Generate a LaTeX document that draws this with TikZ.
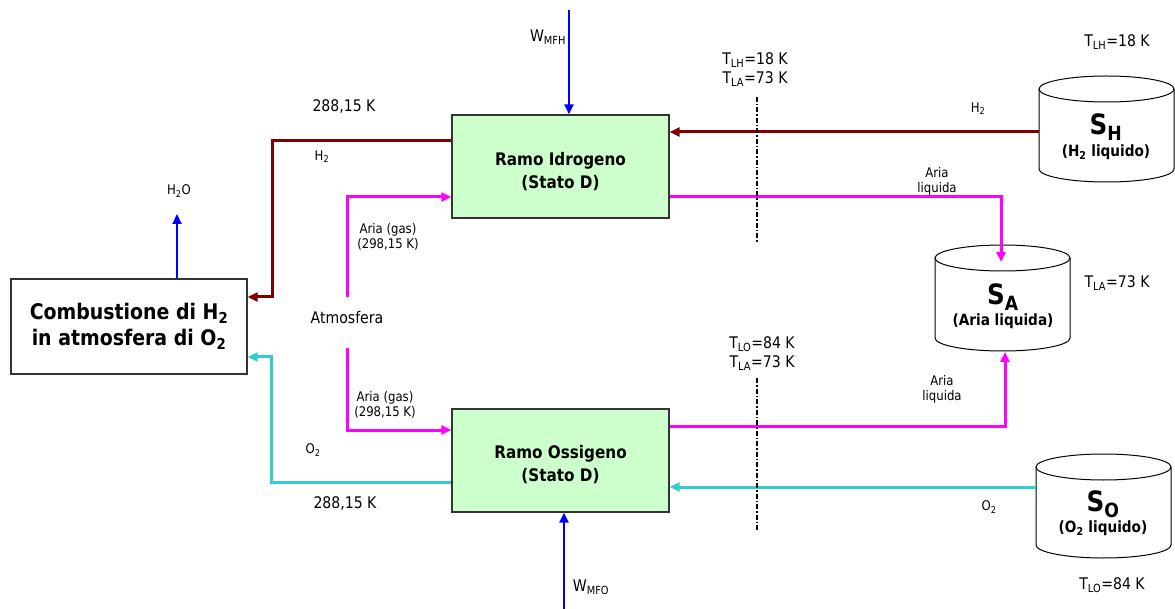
\documentclass[tikz,border=0pt]{standalone}
\usepackage{fontspec}
\setmainfont{DejaVu Sans}[FakeStretch=0.88]
\usetikzlibrary{arrows.meta}
\definecolor{dred}{HTML}{800000}
\definecolor{mag}{HTML}{FF00FF}
\definecolor{cya}{HTML}{33CCCC}
\definecolor{blu}{HTML}{0000FF}
\definecolor{lgreen}{HTML}{CCFFCC}
\newcommand\fs[1]{\fontsize{#1}{#1}\selectfont}
\newcommand\sbs[1]{\textsubscript{#1}}
\newcommand\tank[4]{%
  \draw[tankline] ({#2-67.5},#3) -- ({#2-67.5},#4) arc[start angle=180,end angle=0,x radius=67.5,y radius=13] -- ({#2+67.5},#3);
  \draw[tankline] (#2,#3) ellipse[x radius=67.5,y radius=13];
  \coordinate (#1) at (#2,#3);}
\begin{document}
\begin{tikzpicture}[x=1pt,y=-1pt,
  box/.style={draw=black!80,line width=1.2pt,fill=lgreen,minimum width=217pt,minimum height=103pt,inner sep=0pt},
  boxtext/.style={inner sep=0pt,align=center,font=\fs{17.3}\bfseries},
  cbox/.style={draw=black!80,line width=1.2pt,fill=white,minimum width=236pt,minimum height=95pt,inner sep=0pt,align=center,font=\fs{21.5}\bfseries},
  tankline/.style={draw=black,line width=1pt,fill=white},
  lbl/.style={inner sep=0pt,font=\fs{16}},
  slbl/.style={inner sep=0pt,font=\fs{13.3}},
  tip/.style={-{Triangle[length=10pt,width=9pt]}},
  h2line/.style={draw=dred,line width=3pt},
  airline/.style={draw=mag,line width=3pt},
  o2line/.style={draw=cya,line width=3pt},
  wline/.style={draw=blu,line width=2.2pt},
  cut/.style={draw=black,line width=1.6pt,dash pattern=on 5pt off 2pt on 1.5pt off 2pt}]
\useasboundingbox (0,0) rectangle (1175,609);

% boxes
\node[box] (RI) at (560.5,166.5) {};
\node[boxtext] (RIt) at ([yshift=-5pt]RI.center) {Ramo Idrogeno\\[6pt](Stato D)};
\node[box] (RO) at (560.5,460.5) {};
\node[boxtext] (ROt) at ([yshift=-4pt]RO.center) {Ramo Ossigeno\\[6pt](Stato D)};
\node[cbox] (CB) at (129,326.5) {Combustione di H\sbs{2}\\[5pt]in atmosfera di O\sbs{2}};

% tanks
\tank{SHtop}{1106.5}{89}{169}
\tank{SAtop}{1002.5}{258}{338}
\tank{SOtop}{1103.5}{467}{545}
\node[inner sep=0pt,font=\fs{28}\bfseries] (SHs) at (1106,127) {S\sbs{H}};
\node[inner sep=0pt,font=\fs{15.5}\bfseries] (SHl) at (1106,152) {(H\sbs{2} liquido)};
\node[inner sep=0pt,font=\fs{28}\bfseries] (SAs) at (1003,297) {S\sbs{A}};
\node[inner sep=0pt,font=\fs{15.5}\bfseries] (SAl) at (1003,321) {(Aria liquida)};
\node[inner sep=0pt,font=\fs{28}\bfseries] (SOs) at (1103,504) {S\sbs{O}};
\node[inner sep=0pt,font=\fs{15.5}\bfseries] (SOl) at (1103,528) {(O\sbs{2} liquido)};

% connection coordinates
\coordinate (SHw) at (1039,132);
\coordinate (SOw) at (1036,487);
\coordinate (SAt) at (1001,262);
\coordinate (SAb) at (1005,352);
\coordinate (WHs) at (569,10);
\coordinate (WOs) at (564,609);
\coordinate (H2Oe) at (177,214);
\coordinate (AtmU) at (347,297);
\coordinate (AtmD) at (347,348);

% hydrogen
\draw[h2line,tip] (SHw) -- (RI.east |- SHw);
\draw[h2line,tip] (RI.west |- 0,141) -- (272,141) -- (272,297) -- (CB.east |- 0,297);
% oxygen
\draw[o2line,tip] (SOw) -- (RO.east |- SOw);
\draw[o2line,tip] (RO.west |- 0,482) -- (271,482) -- (271,357) -- (CB.east |- 0,357);
% air
\draw[airline,tip] (AtmU) -- (347,197) -- (RI.west |- 0,197);
\draw[airline,tip] (AtmD) -- (347,430) -- (RO.west |- 0,430);
\draw[airline,tip] (RI.east |- 0,197) -- (1001,197) -- (SAt);
\draw[airline,tip] (RO.east |- 0,426) -- (1005,426) -- (SAb);
% work and water
\draw[wline,tip] (WHs) -- (RI.north -| WHs);
\draw[wline,tip] (WOs) -- (RO.south -| WOs);
\draw[wline,tip] (CB.north -| H2Oe) -- (H2Oe);

% cut lines
\coordinate (c1a) at (757,97); \coordinate (c1b) at (757,243);
\coordinate (c2a) at (757,378); \coordinate (c2b) at (757,530);
\draw[cut] (c1a) -- (c1b);
\draw[cut] (c2a) -- (c2b);

% labels
\node[lbl] (lWH) at (548,37) {W\sbs{MFH}};
\node[lbl] (lWO) at (591,587) {W\sbs{MFO}};
\node[lbl] (lT1) at (344,106) {288,15 K};
\node[lbl] (lT2) at (345,503) {288,15 K};
\node[slbl] (lH2a) at (322,157) {H\sbs{2}};
\node[slbl] (lH2b) at (978,109) {H\sbs{2}};
\node[slbl] (lH2O) at (179,191) {H\sbs{2}O};
\node[slbl] (lO2a) at (313,450) {O\sbs{2}};
\node[slbl] (lO2b) at (989,507) {O\sbs{2}};
\node[slbl,align=center] (lAg1) at (388,237) {Aria (gas)\\[2pt](298,15 K)};
\node[slbl,align=center] (lAg2) at (385,405) {Aria (gas)\\[2pt](298,15 K)};
\node[slbl,align=center] (lAl1) at (937,181) {Aria\\[2pt]liquida};
\node[slbl,align=center] (lAl2) at (942,389) {Aria\\[2pt]liquida};
\node[lbl] (lAtm) at (347,318) {Atmosfera};
\node[lbl] (lc1a) at (755,60) {T\sbs{LH}=18 K};
\node[lbl] (lc1b) at (755,79) {T\sbs{LA}=73 K};
\node[lbl] (lc2a) at (762,344) {T\sbs{LO}=84 K};
\node[lbl] (lc2b) at (762,363) {T\sbs{LA}=73 K};
\node[lbl] (lTH) at (1117,42) {T\sbs{LH}=18 K};
\node[lbl] (lTA) at (1117,283) {T\sbs{LA}=73 K};
\node[lbl] (lTO) at (1112,585) {T\sbs{LO}=84 K};
\end{tikzpicture}
\end{document}
